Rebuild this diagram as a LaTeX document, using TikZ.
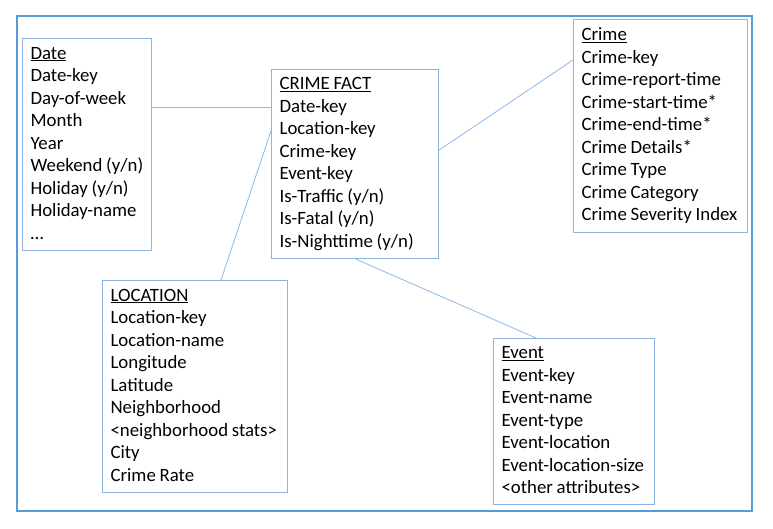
\documentclass[tikz,border=0pt]{standalone}
\usepackage{fontspec}
\setmainfont{Carlito}
\usetikzlibrary{calc}
\definecolor{framecol}{HTML}{5B9BD5}
\definecolor{boxcol}{HTML}{8DB4E2}
\definecolor{linkcol}{HTML}{8CB8E4}
\tikzset{
  entity/.style={draw=boxcol, line width=1.2pt, anchor=north west, inner xsep=8pt, inner ysep=0pt,
    align=left, font=\fontsize{18.8pt}{22.5pt}\selectfont},
  link/.style={draw=linkcol, line width=0.8pt}
}
\newcommand{\ent}[1]{\spaceskip=0.2em\relax\xspaceskip=0.2em\relax\begin{tabular}{@{}l@{}}#1\end{tabular}}
\begin{document}
\begin{tikzpicture}[x=1pt,y=1pt]
\useasboundingbox (0,0) rectangle (773,-529);
\draw[framecol, line width=1.5pt] (17,-16) rectangle (752,-511);
\node[entity, minimum width=129pt, minimum height=212pt, text width=113pt] (date) at (22,-38)
  {\ent{\underline{Date}\\Date-key\\Day-of-week\\Month\\Year\\Weekend (y/n)\\Holiday (y/n)\\Holiday-name\\\ldots}};
\node[entity, minimum width=167pt, minimum height=189pt, text width=151pt] (fact) at (271,-69)
  {\ent{\underline{CRIME FACT}\\Date-key\\Location-key\\Crime-key\\Event-key\\Is-Traffic (y/n)\\Is-Fatal (y/n)\\Is-Nighttime (y/n)}};
\node[entity, minimum width=174pt, minimum height=213pt, text width=158pt] (crime) at (573,-19)
  {\ent{\underline{Crime}\\Crime-key\\Crime-report-time\\Crime-start-time*\\Crime-end-time*\\Crime Details*\\Crime Type\\Crime Category\\Crime Severity Index}};
\node[entity, minimum width=185pt, minimum height=212pt, text width=169pt] (loc) at (102,-280)
  {\ent{\underline{LOCATION}\\Location-key\\Location-name\\Longitude\\Latitude\\Neighborhood\\<neighborhood stats>\\City\\Crime Rate}};
\node[entity, minimum width=161pt, minimum height=166pt, text width=145pt] (event) at (493,-338)
  {\ent{\underline{Event}\\Event-key\\Event-name\\Event-type\\Event-location\\Event-location-size\\<other attributes>}};
\draw[link] ($(date.north east)+(0,-69)$) -- ($(fact.north west)+(0,-38)$);
\draw[link] ($(fact.north west)+(0,-62)$) -- ($(loc.north west)+(119,0)$);
\draw[link] ($(fact.north east)+(0,-81)$) -- ($(crime.north west)+(0,-41)$);
\draw[link] ($(fact.south west)+(85,0)$) -- ($(event.north west)+(43,0)$);
\end{tikzpicture}
\end{document}
